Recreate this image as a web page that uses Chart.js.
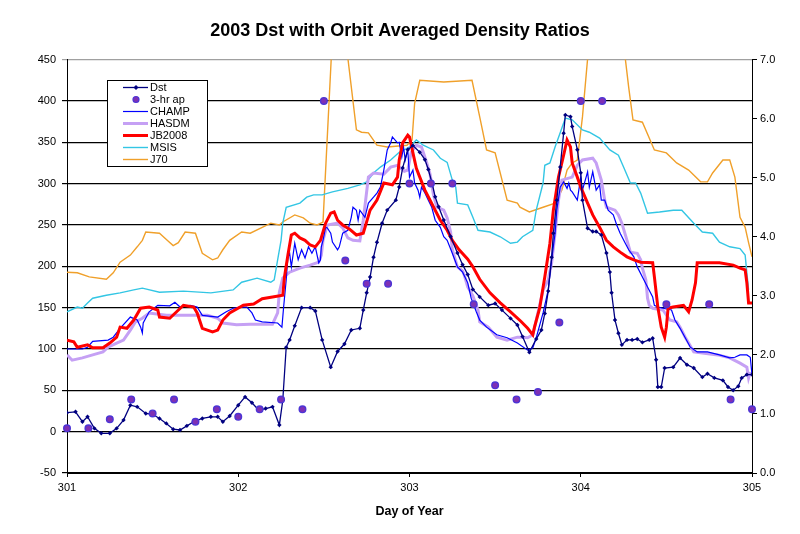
<!DOCTYPE html>
<html>
<head>
<meta charset="utf-8">
<script src="https://cdn.jsdelivr.net/npm/chart.js@4.4.0/dist/chart.umd.min.js"></script>
<style>
  html, body { margin: 0; padding: 0; background: #fff; }
  #wrap { width: 800px; height: 534px; }
</style>
</head>
<body>
<div id="wrap"><canvas id="grafico"></canvas></div>
<script>
// [day of year, value]  Dst and ap on the left axis, density ratios on the right
const dstData = [
  [301.00,23],[301.05,24],[301.09,12],[301.12,18],[301.16,4],[301.20,-2],[301.25,-2],[301.29,4],[301.33,14],[301.37,32],
  [301.41,30],[301.46,22],[301.50,21],[301.54,16],[301.58,10],[301.62,3],[301.66,2],[301.70,7],[301.74,12],[301.79,16],
  [301.84,18],[301.88,18],[301.91,12],[301.95,19],[302.00,32],[302.04,42],[302.08,35],[302.12,26],[302.16,28],[302.20,30],
  [302.24,8],[302.26,38],[302.28,102],[302.30,111],[302.33,128],[302.37,150],[302.42,150],[302.45,146],[302.49,111],[302.54,78],
  [302.58,97],[302.62,106],[302.66,123],[302.71,125],[302.73,147],[302.75,168],[302.77,187],[302.79,211],[302.81,229],[302.84,252],
  [302.87,268],[302.92,280],[302.94,296],[302.96,319],[302.99,341],[303.02,346],[303.06,338],[303.09,329],[303.11,317],[303.13,302],
  [303.15,284],[303.17,272],[303.20,256],[303.24,236],[303.28,216],[303.31,202],[303.34,190],[303.37,172],[303.41,163],[303.46,153],
  [303.50,155],[303.54,147],[303.59,137],[303.63,129],[303.66,115],[303.70,96],[303.74,112],[303.77,123],[303.79,143],[303.81,170],
  [303.83,211],[303.84,240],[303.86,280],[303.88,320],[303.90,361],[303.91,383],[303.94,381],[303.95,369],[303.98,341],[304.00,313],
  [304.01,280],[304.04,246],[304.07,242],[304.09,242],[304.12,238],[304.15,216],[304.17,193],[304.18,168],[304.20,135],[304.22,119],
  [304.24,105],[304.27,111],[304.30,111],[304.33,112],[304.36,108],[304.40,111],[304.42,113],[304.44,87],[304.45,54],[304.47,54],
  [304.49,77],[304.54,78],[304.58,89],[304.62,81],[304.66,77],[304.71,66],[304.74,70],[304.78,65],[304.83,62],[304.86,54],
  [304.89,50],[304.92,55],[304.94,65],[304.97,69],[305.00,69]
];

const apData = [
  [301.000,4],[301.125,4],[301.250,15],[301.375,39],[301.500,22],[301.625,39],[301.750,12],[301.875,27],
  [302.000,18],[302.125,27],[302.250,39],[302.375,27],[302.500,400],[302.625,207],[302.750,179],[302.875,179],
  [303.000,300],[303.125,300],[303.250,300],[303.375,154],[303.500,56],[303.625,39],[303.750,48],[303.875,132],
  [304.000,400],[304.125,400],[304.500,154],[304.750,154],[304.875,39],[305.000,27]
];

const champData = [
  [301.00,2.10],[301.09,2.10],[301.12,2.13],[301.15,2.23],[301.24,2.25],[301.27,2.30],[301.31,2.45],[301.37,2.64],[301.41,2.59],[301.43,2.47],
  [301.44,2.37],[301.445,2.54],[301.48,2.73],[301.53,2.84],[301.60,2.83],[301.63,2.89],[301.66,2.81],[301.72,2.84],[301.76,2.81],[301.79,2.67],
  [301.88,2.64],[301.93,2.73],[301.97,2.79],[302.01,2.81],[302.05,2.81],[302.08,2.71],[302.10,2.59],[302.14,2.56],[302.23,2.54],[302.255,2.47],
  [302.265,2.81],[302.28,3.27],[302.29,3.66],[302.30,3.72],[302.31,3.49],[302.33,3.89],[302.35,3.61],[302.37,3.78],[302.39,3.64],[302.41,3.83],
  [302.43,3.72],[302.45,3.83],[302.47,3.56],[302.48,3.61],[302.485,3.83],[302.495,3.94],[302.51,4.16],[302.52,4.15],[302.54,4.06],[302.55,3.91],
  [302.58,3.78],[302.59,3.83],[302.61,4.06],[302.64,4.11],[302.66,4.33],[302.67,4.50],[302.69,4.45],[302.70,4.28],[302.71,4.45],[302.74,4.33],
  [302.76,4.57],[302.79,4.67],[302.81,4.74],[302.83,4.84],[302.85,5.13],[302.87,5.47],[302.89,5.59],[302.90,5.69],[302.93,5.59],[302.94,5.60],
  [302.955,5.35],[302.965,5.52],[302.975,5.30],[302.99,5.47],[303.00,5.01],[303.02,5.13],[303.03,4.91],[303.05,4.79],[303.06,4.67],[303.07,4.84],
  [303.09,4.74],[303.11,4.62],[303.13,4.50],[303.15,4.28],[303.18,4.16],[303.20,4.00],[303.22,3.94],[303.25,3.72],[303.28,3.49],[303.31,3.40],
  [303.34,3.22],[303.36,2.96],[303.39,2.73],[303.41,2.59],[303.45,2.47],[303.51,2.34],[303.57,2.29],[303.63,2.20],[303.69,2.08],[303.72,2.12],
  [303.74,2.29],[303.78,2.71],[303.81,3.10],[303.83,3.61],[303.85,4.06],[303.86,4.45],[303.88,4.84],[303.90,4.93],[303.92,4.82],[303.93,4.91],
  [303.94,4.79],[303.95,4.76],[303.98,4.62],[304.00,5.01],[304.01,4.79],[304.04,5.10],[304.05,4.84],[304.07,5.10],[304.09,4.79],[304.11,4.88],
  [304.12,4.62],[304.14,4.62],[304.16,4.45],[304.19,4.37],[304.21,4.20],[304.23,4.06],[304.26,3.89],[304.28,3.78],[304.31,3.66],[304.33,3.49],
  [304.36,3.32],[304.39,3.15],[304.42,2.98],[304.43,2.84],[304.45,2.81],[304.48,2.79],[304.53,2.76],[304.55,2.59],[304.58,2.45],[304.61,2.29],
  [304.64,2.13],[304.68,2.05],[304.74,2.05],[304.81,2.00],[304.87,1.95],[304.90,1.96],[304.93,2.00],[304.97,2.00],[304.99,1.96],[305.00,1.66]
];

const hasdmData = [
  [301.00,2.00],[301.03,1.91],[301.09,1.95],[301.15,2.00],[301.21,2.05],[301.24,2.13],[301.29,2.20],[301.33,2.25],[301.37,2.42],[301.40,2.56],
  [301.44,2.62],[301.48,2.71],[301.58,2.67],[301.68,2.67],[301.82,2.67],[301.88,2.62],[301.91,2.54],[301.99,2.51],[302.07,2.52],[302.20,2.52],
  [302.23,2.71],[302.24,3.06],[302.26,3.30],[302.30,3.40],[302.36,3.47],[302.42,3.52],[302.47,3.57],[302.485,3.69],[302.495,3.94],[302.52,4.20],
  [302.58,4.23],[302.61,4.15],[302.64,3.98],[302.67,3.94],[302.71,3.93],[302.73,4.28],[302.76,5.01],[302.79,5.08],[302.85,5.06],[302.89,5.18],
  [302.93,5.21],[302.97,5.11],[302.99,5.13],[303.01,5.43],[303.04,5.55],[303.07,5.52],[303.10,5.26],[303.12,5.06],[303.14,4.71],[303.16,4.50],
  [303.20,4.45],[303.22,4.32],[303.24,4.08],[303.25,3.78],[303.28,3.49],[303.31,3.42],[303.32,3.35],[303.34,3.15],[303.37,3.00],[303.40,2.76],
  [303.41,2.56],[303.46,2.47],[303.51,2.30],[303.57,2.25],[303.63,2.30],[303.66,2.30],[303.69,2.29],[303.72,2.34],[303.74,2.59],[303.76,2.84],
  [303.78,3.10],[303.81,3.27],[303.83,3.56],[303.85,4.06],[303.87,4.62],[303.89,4.96],[303.95,5.01],[303.98,5.21],[304.01,5.30],[304.07,5.33],
  [304.09,5.25],[304.12,4.96],[304.14,4.62],[304.15,4.50],[304.20,4.45],[304.22,4.37],[304.24,4.23],[304.27,3.94],[304.29,3.74],[304.33,3.72],
  [304.35,3.61],[304.36,3.47],[304.38,3.27],[304.39,2.96],[304.40,2.84],[304.42,2.79],[304.48,2.76],[304.52,2.59],[304.56,2.56],[304.58,2.47],
  [304.61,2.30],[304.63,2.20],[304.66,2.05],[304.71,2.03],[304.80,2.00],[304.87,1.95],[304.93,1.86],[304.97,1.79],[304.98,1.61],[304.99,1.71]
];

const jb2008Data = [
  [301.00,2.25],[301.04,2.22],[301.06,2.13],[301.12,2.17],[301.15,2.12],[301.21,2.12],[301.25,2.20],[301.29,2.30],[301.31,2.47],[301.35,2.45],
  [301.39,2.59],[301.43,2.79],[301.48,2.81],[301.53,2.76],[301.54,2.64],[301.60,2.62],[301.64,2.73],[301.68,2.84],[301.74,2.81],[301.76,2.71],
  [301.79,2.45],[301.85,2.39],[301.88,2.42],[301.91,2.59],[301.95,2.71],[302.03,2.84],[302.09,2.86],[302.14,2.95],[302.20,2.98],[302.26,3.01],
  [302.27,3.32],[302.29,3.69],[302.31,4.03],[302.33,4.06],[302.36,3.98],[302.39,3.94],[302.42,3.86],[302.45,3.83],[302.48,3.94],[302.51,4.23],
  [302.54,4.40],[302.56,4.42],[302.58,4.28],[302.61,4.20],[302.65,4.13],[302.69,4.03],[302.73,4.06],[302.77,4.45],[302.81,4.62],[302.85,4.91],
  [302.90,4.88],[302.93,5.01],[302.94,5.30],[302.96,5.59],[302.99,5.72],[303.00,5.69],[303.02,5.42],[303.04,5.16],[303.06,5.01],[303.09,4.79],
  [303.12,4.62],[303.15,4.45],[303.18,4.28],[303.22,4.11],[303.25,3.94],[303.29,3.78],[303.34,3.62],[303.37,3.49],[303.41,3.28],[303.47,3.05],
  [303.53,2.88],[303.59,2.73],[303.65,2.57],[303.69,2.45],[303.72,2.34],[303.73,2.47],[303.76,2.79],[303.79,3.32],[303.82,3.89],[303.84,4.45],
  [303.87,5.01],[303.90,5.38],[303.92,5.64],[303.94,5.52],[303.95,5.25],[303.98,5.01],[304.00,4.84],[304.04,4.57],[304.07,4.37],[304.11,4.16],
  [304.15,3.94],[304.19,3.83],[304.23,3.74],[304.27,3.66],[304.31,3.61],[304.35,3.57],[304.42,3.56],[304.43,3.32],[304.45,2.81],[304.47,2.47],
  [304.49,2.30],[304.50,2.47],[304.51,2.79],[304.54,2.81],[304.60,2.84],[304.63,2.73],[304.65,2.93],[304.67,3.22],[304.68,3.56],[304.74,3.56],
  [304.81,3.56],[304.89,3.52],[304.93,3.47],[304.96,3.44],[304.97,3.22],[304.98,2.88],[305.00,2.88]
];

const msisData = [
  [301.00,2.73],[301.06,2.81],[301.09,2.79],[301.12,2.88],[301.15,2.96],[301.23,3.01],[301.31,3.05],[301.39,3.10],[301.44,3.13],[301.54,3.06],
  [301.68,3.08],[301.84,3.05],[301.97,3.10],[302.02,3.23],[302.11,3.30],[302.19,3.23],[302.21,3.27],[302.23,3.61],[302.25,3.94],[302.26,4.23],
  [302.28,4.50],[302.36,4.57],[302.40,4.67],[302.44,4.71],[302.49,4.71],[302.55,4.76],[302.64,4.82],[302.71,4.88],[302.75,4.93],[302.79,5.08],
  [302.83,5.18],[302.89,5.30],[302.94,5.43],[303.00,5.52],[303.04,5.64],[303.08,5.55],[303.14,5.47],[303.18,5.33],[303.22,5.26],[303.25,4.96],
  [303.27,4.84],[303.28,4.57],[303.34,4.54],[303.37,4.33],[303.40,4.11],[303.47,4.08],[303.53,4.00],[303.59,3.89],[303.63,3.91],[303.66,4.00],
  [303.72,4.11],[303.74,4.45],[303.78,4.91],[303.79,5.21],[303.82,5.25],[303.85,5.52],[303.88,5.76],[303.91,6.01],[303.95,5.98],[304.01,5.81],
  [304.05,5.77],[304.11,5.67],[304.17,5.47],[304.22,5.38],[304.25,5.18],[304.29,4.91],[304.32,4.91],[304.35,4.74],[304.39,4.40],[304.46,4.42],
  [304.54,4.45],[304.59,4.45],[304.66,4.23],[304.71,4.08],[304.77,4.06],[304.81,3.91],[304.87,3.83],[304.93,3.80],[304.96,3.69],[304.97,3.39],
  [304.98,3.10]
];

const j70Data = [
  [301.00,3.40],[301.06,3.39],[301.13,3.32],[301.23,3.28],[301.27,3.39],[301.31,3.57],[301.37,3.69],[301.41,3.83],[301.44,3.94],[301.46,4.08],
  [301.54,4.06],[301.59,3.93],[301.62,3.85],[301.65,3.90],[301.69,4.08],[301.75,4.06],[301.79,3.72],[301.85,3.61],[301.88,3.64],[301.91,3.78],
  [301.95,3.94],[302.02,4.08],[302.07,4.06],[302.14,4.16],[302.19,4.23],[302.24,4.20],[302.26,4.25],[302.33,4.37],[302.38,4.32],[302.42,4.23],
  [302.46,4.20],[302.495,4.25],[302.56,8.0],[302.60,8.0],[302.69,5.81],[302.72,5.77],[302.76,5.76],[302.81,5.55],[302.87,5.52],[302.985,5.55],
  [303.015,5.64],[303.03,6.26],[303.06,6.65],[303.20,6.62],[303.365,6.65],[303.41,6.03],[303.45,5.47],[303.50,5.42],[303.57,4.62],[303.63,4.57],
  [303.645,4.50],[303.70,4.42],[303.78,4.50],[303.85,4.57],[303.89,4.79],[303.92,5.13],[303.95,5.25],[303.98,5.30],[304.01,6.03],[304.07,8.0],
  [304.22,8.0],[304.28,6.53],[304.305,5.98],[304.36,5.94],[304.43,5.47],[304.50,5.42],[304.56,5.25],[304.63,5.13],[304.70,4.93],[304.74,4.93],
  [304.77,5.08],[304.83,5.30],[304.87,5.30],[304.90,5.01],[304.93,4.33],[304.96,4.16],[304.98,3.90],[305.00,3.66]
];

const titulo = "2003 Dst with Orbit Averaged Density Ratios";

function puntos(arr) {
  return arr.map(p => ({ x: p[0], y: p[1] }));
}

Chart.defaults.font.family = "'Liberation Sans', Arial, sans-serif";
Chart.defaults.color = "#000";

// legend box drawn inside the plot, like the original
const leyenda = {
  id: "leyenda",
  afterDraw(chart) {
    const ctx = chart.ctx;
    ctx.save();
    ctx.fillStyle = "#fff";
    ctx.fillRect(107.5, 80.5, 100, 86);
    ctx.strokeStyle = "#000";
    ctx.lineWidth = 1;
    ctx.strokeRect(107.5, 80.5, 100, 86);
    ctx.font = "11px 'Liberation Sans', Arial, sans-serif";
    ctx.textBaseline = "middle";
    chart.data.datasets.forEach((ds, i) => {
      const y = 87.5 + i * 12;
      if (ds.showLine === false) {
        ctx.beginPath();
        ctx.arc(136, y, 3, 0, Math.PI * 2);
        ctx.fillStyle = ds.backgroundColor;
        ctx.fill();
        ctx.strokeStyle = ds.borderColor;
        ctx.lineWidth = 1.2;
        ctx.stroke();
      } else {
        ctx.beginPath();
        ctx.moveTo(123, y);
        ctx.lineTo(148, y);
        ctx.strokeStyle = ds.borderColor;
        ctx.lineWidth = ds.borderWidth;
        ctx.stroke();
        if (ds.pointRadius > 0) {
          ctx.fillStyle = ds.borderColor;
          ctx.beginPath();
          ctx.moveTo(136, y - 2.5);
          ctx.lineTo(138.5, y);
          ctx.lineTo(136, y + 2.5);
          ctx.lineTo(133.5, y);
          ctx.closePath();
          ctx.fill();
        }
      }
      ctx.fillStyle = "#000";
      ctx.fillText(ds.label, 150, y + 0.5);
    });
    ctx.restore();
  }
};

new Chart(document.getElementById("grafico"), {
  type: "line",
  data: {
    datasets: [
      {
        label: "Dst", data: puntos(dstData), yAxisID: "y", order: 1,
        borderColor: "#000080", borderWidth: 1.3,
        pointStyle: "rectRot", pointRadius: 2.2, pointBackgroundColor: "#000080", pointBorderWidth: 0
      },
      {
        label: "3-hr ap", data: puntos(apData), yAxisID: "y", order: 0, showLine: false, clip: false,
        backgroundColor: "#7e30b4", borderColor: "#4c35d6", borderWidth: 1.4,
        pointStyle: "circle", pointRadius: 3.3
      },
      {
        label: "CHAMP", data: puntos(champData), yAxisID: "y2", order: 3,
        borderColor: "#0000ff", borderWidth: 1.2, pointRadius: 0
      },
      {
        label: "HASDM", data: puntos(hasdmData), yAxisID: "y2", order: 4,
        borderColor: "#c5a0f4", borderWidth: 3, pointRadius: 0
      },
      {
        label: "JB2008", data: puntos(jb2008Data), yAxisID: "y2", order: 2,
        borderColor: "#ff0000", borderWidth: 3, pointRadius: 0
      },
      {
        label: "MSIS", data: puntos(msisData), yAxisID: "y2", order: 5,
        borderColor: "#33c6e4", borderWidth: 1.4, pointRadius: 0
      },
      {
        label: "J70", data: puntos(j70Data), yAxisID: "y2", order: 6,
        borderColor: "#f0a02a", borderWidth: 1.4, pointRadius: 0
      }
    ]
  },
  options: {
    responsive: true,
    maintainAspectRatio: false,
    animation: false,
    layout: { padding: 0 },
    plugins: {
      legend: { display: false },
      tooltip: { enabled: false },
      title: {
        display: true,
        text: titulo,
        color: "#000",
        font: { size: 18, weight: "bold" },
        padding: { top: 20, bottom: 18 }
      }
    },
    scales: {
      x: {
        type: "linear",
        min: 301,
        max: 305,
        ticks: { stepSize: 1, font: { size: 11 }, padding: 4, callback: v => String(v) },
        grid: { drawOnChartArea: false, color: "#000", tickLength: 4 },
        border: { color: "#000", width: 1 },
        title: {
          display: true,
          text: "Day of Year",
          font: { size: 12.5, weight: "bold" },
          padding: { top: 6, bottom: 15 }
        },
        afterFit(s) { s.height = 61; }
      },
      y: {
        position: "left",
        min: -50,
        max: 450,
        ticks: { stepSize: 50, font: { size: 11 }, padding: 6 },
        grid: {
          color: c => (c.tick && c.tick.value === 450 ? "#a0a0a0" : "#000"),
          lineWidth: 1.2,
          tickLength: 5
        },
        border: { color: "#000", width: 1 },
        afterFit(s) { s.width = 67; }
      },
      y2: {
        position: "right",
        min: 0,
        max: 7,
        ticks: { stepSize: 1, font: { size: 11 }, padding: 3, callback: v => v.toFixed(1) },
        grid: { drawOnChartArea: false, color: "#000", tickLength: 5 },
        border: { color: "#000", width: 1 },
        afterFit(s) { s.width = 48; }
      }
    }
  },
  plugins: [leyenda]
});
</script>
</body>
</html>
